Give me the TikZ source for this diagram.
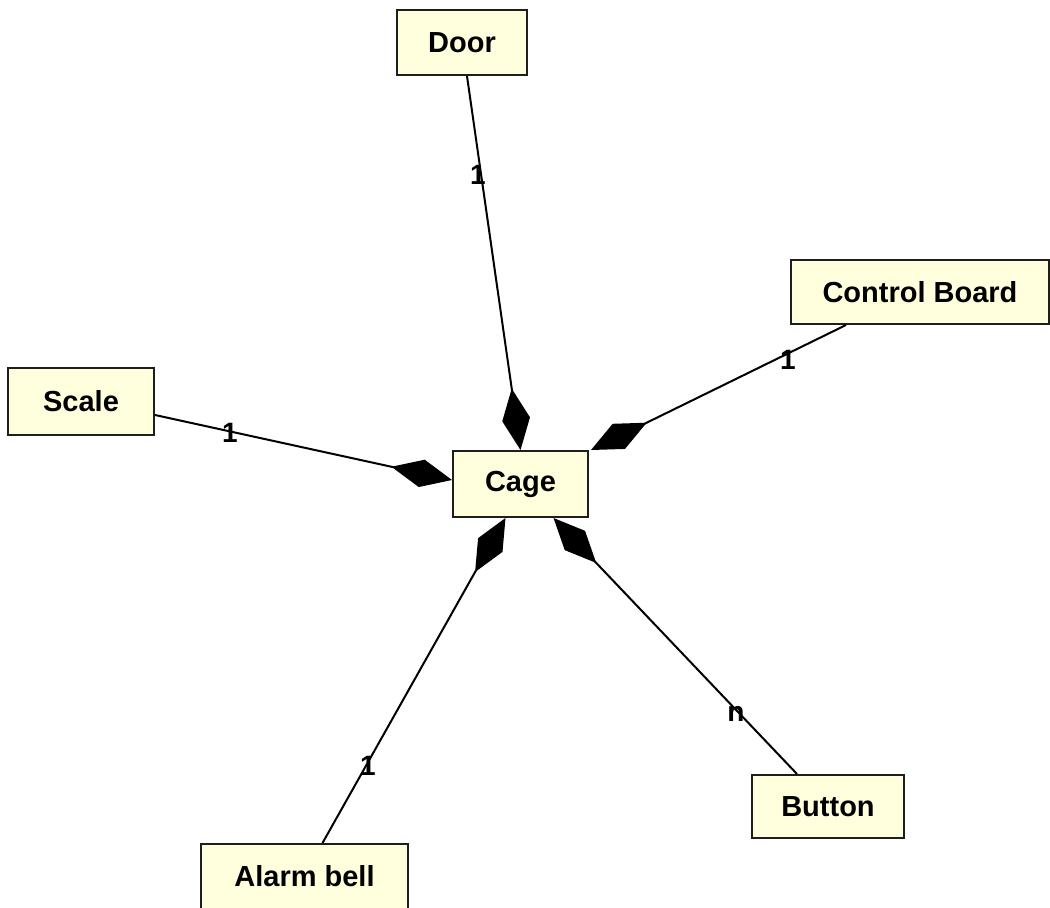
\documentclass[tikz,border=0pt]{standalone}
\usepackage{fontspec}
\setmainfont{Liberation Sans}
\usetikzlibrary{arrows.meta}
\definecolor{boxfill}{RGB}{255,255,221}
\definecolor{boxline}{RGB}{30,30,30}
\tikzset{
  classbox/.style={draw=boxline, line width=2pt, fill=boxfill, inner sep=0pt,
    font=\fontsize{29}{32}\selectfont\bfseries},
  assoc/.style={line width=2pt, black,
    -{Diamond[length=62pt,width=28pt,fill=black]}},
  mult/.style={font=\fontsize{28}{30}\selectfont\bfseries, inner sep=0pt}
}
\begin{document}
\begin{tikzpicture}[x=1pt,y=-1pt]
  \useasboundingbox (0,0) rectangle (1050,908);

  % classes
  \node[classbox, minimum width=135pt, minimum height=66pt] (cage)   at (520.5,484)  {Cage};
  \node[classbox, minimum width=130pt, minimum height=65pt] (door)   at (462,42.5)   {Door};
  \node[classbox, minimum width=258pt, minimum height=64pt] (board)  at (920,292)    {Control Board};
  \node[classbox, minimum width=146pt, minimum height=67pt] (scale)  at (81,401.5)   {Scale};
  \node[classbox, minimum width=207pt, minimum height=65pt] (alarm)  at (304.5,876.5){Alarm bell};
  \node[classbox, minimum width=152pt, minimum height=63pt] (button) at (828,806.5)  {Button};

  % aggregations towards the cage
  \draw[assoc] ([xshift=5pt]door.south) -- (cage.north);
  \draw[assoc] ([xshift=56pt]board.south west) -- ([xshift=2pt]cage.north east);
  \draw[assoc] ([yshift=-13.5pt]scale.east) -- ([yshift=4pt]cage.west);
  \draw[assoc] ([xshift=18pt]alarm.north) -- ([xshift=-15pt]cage.south);
  \draw[assoc] ([xshift=-31pt]button.north) -- ([xshift=33pt]cage.south);

  % multiplicities
  \node[mult] (m1) at (478,175) {1};
  \node[mult] (m2) at (788,360) {1};
  \node[mult] (m3) at (230,433) {1};
  \node[mult] (m4) at (368,766) {1};
  \node[mult] (m5) at (736,714) {n};
\end{tikzpicture}
\end{document}
